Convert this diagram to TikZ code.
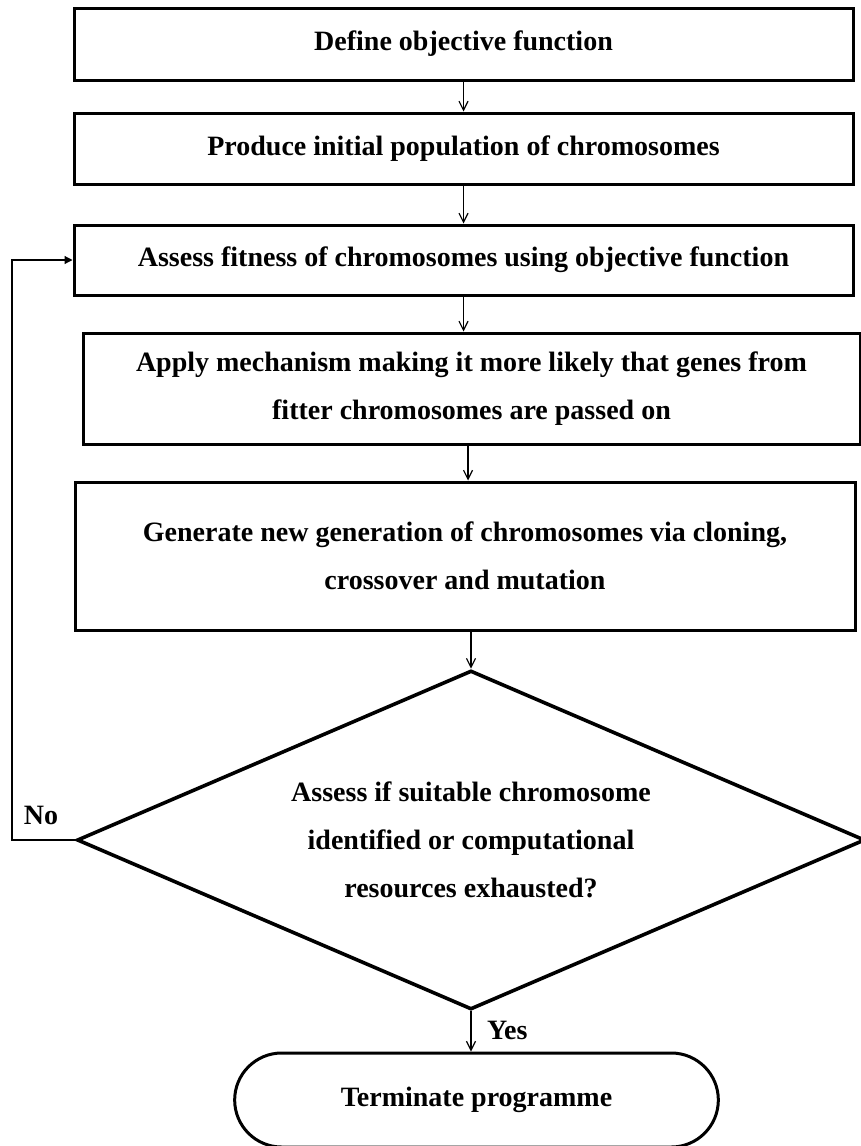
\documentclass[tikz,border=0pt]{standalone}
\usepackage{fontspec}
\setmainfont{Liberation Serif}
\usepackage{tikz}
\usetikzlibrary{arrows.meta, positioning, shapes.geometric, shapes.misc}

\begin{document}
\begin{tikzpicture}[
  x=0.5pt, y=-0.5pt,
  stepbox/.style  = {draw, line width=1.5pt, align=center, inner sep=2pt,
                     font=\fontsize{14}{24}\selectfont\bfseries},
  decbox/.style   = {draw, diamond, aspect=2.32, inner sep=0pt,
                     line width=1.8pt, align=center,
                     minimum width=394pt, minimum height=169.5pt,
                     font=\fontsize{14}{24}\selectfont\bfseries},
  termbox/.style  = {draw, rounded rectangle, line width=1.5pt,
                     minimum width=248.5pt, minimum height=47pt,
                     font=\fontsize{14}{24}\selectfont\bfseries},
  flowarr/.style  = {-{Straight Barb[length=4.5pt,width=4.5pt]}, line width=0.6pt},
  backarr/.style  = {-{Triangle[length=4pt,width=4pt]}, line width=0.6pt},
  lbl/.style      = {font=\fontsize{14}{16}\selectfont\bfseries},
]
\useasboundingbox (0,0) rectangle (861,1146);

%% ── Process steps ─────────────────────────────────────────────────
\node[stepbox, minimum width=389.5pt, minimum height=36pt]   (define)  at (463.5, 44)
  {Define objective function};
\node[stepbox, minimum width=389.5pt, minimum height=35.5pt] (produce) at (463.5, 148.5)
  {Produce initial population of chromosomes};
\node[stepbox, minimum width=389.5pt, minimum height=35pt]   (assess)  at (463.5, 260)
  {Assess fitness of chromosomes using objective function};
\node[stepbox, minimum width=388.5pt, minimum height=55.5pt] (apply)   at (471.5, 388.5)
  {Apply mechanism making it more likely that genes from\\fitter chromosomes are passed on};
\node[stepbox, minimum width=390pt, minimum height=74pt]     (generate) at (465, 556)
  {Generate new generation of chromosomes via cloning,\\crossover and mutation};

%% ── Decision and end ──────────────────────────────────────────────
\node[decbox]  (check) at (471, 840)
  {Assess if suitable chromosome\\identified or computational\\resources exhausted?};
\node[termbox] (stop)  at (476.5, 1100) {Terminate programme};

%% ── Forward arrows ────────────────────────────────────────────────
\draw[flowarr] (define.south)  -- (produce.north);
\draw[flowarr] (produce.south) -- (assess.north);
\draw[flowarr] (assess.south)  -- (assess.south |- apply.north);
\draw[flowarr] (apply.south -| 468, 0) -- (468, 0 |- generate.north);
\draw[flowarr] (check.north |- generate.south) -- (check.north);
\draw[flowarr] (check.south) -- (check.south |- stop.north);
\node[lbl, anchor=west] (yes) at (480, 1030) {Yes};

%% ── Loop back ─────────────────────────────────────────────────────
\coordinate (loop) at (12, 840);
\draw[backarr] (check.west) -- (loop) |- (assess.west);
\node[lbl] (no) at (41, 815) {No};

\end{tikzpicture}
\end{document}
